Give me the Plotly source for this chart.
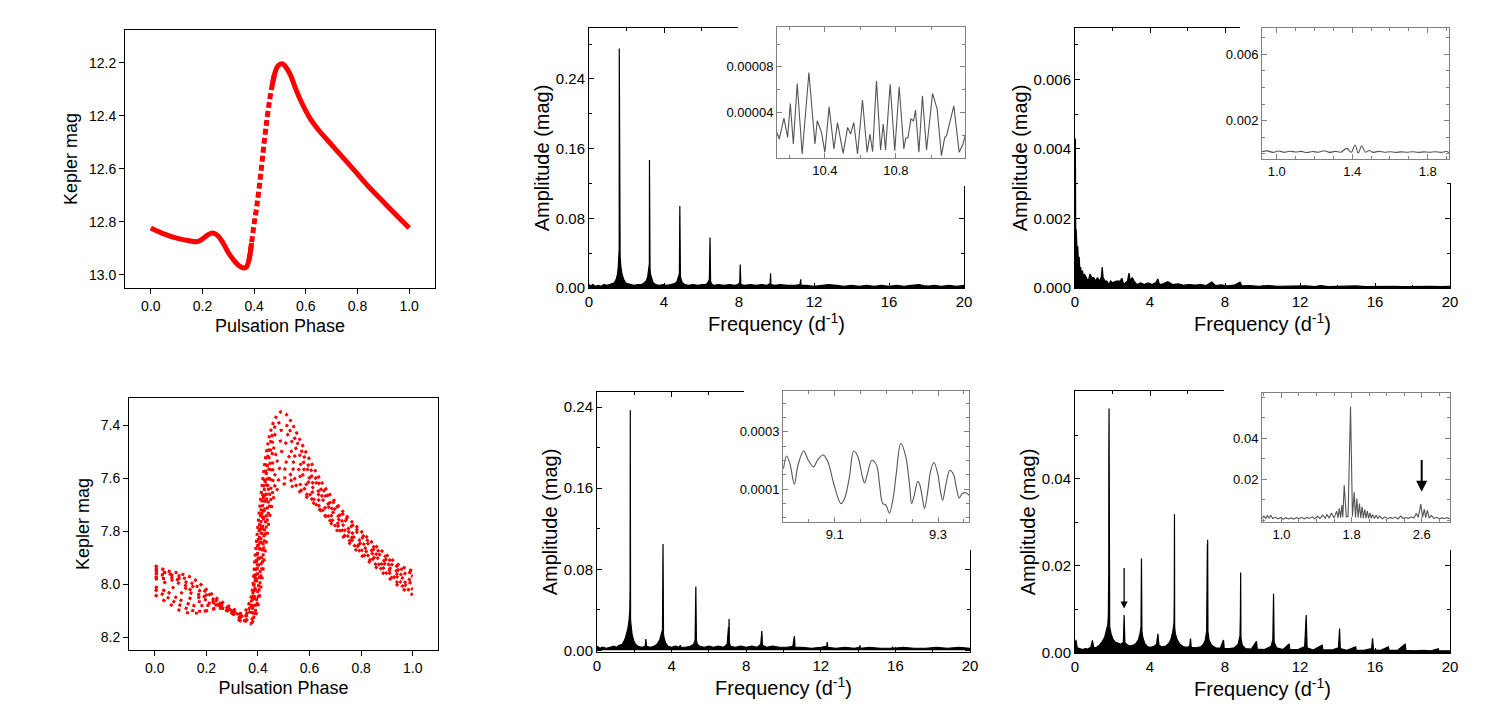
import plotly.graph_objects as go

W, H = 1500, 720
OFF = 8  # the page body adds an 8 px margin; domains are shifted to compensate
FONT = "Arial, 'Liberation Sans', sans-serif"
RED = "#ff0000"

# ---------------- light curves ----------------
phase_top = [0.00, 0.05, 0.10, 0.15, 0.18, 0.20, 0.22, 0.24, 0.26, 0.28, 0.30, 0.32, 0.34, 0.36,
             0.37, 0.38, 0.39, 0.40, 0.41, 0.42, 0.43, 0.44, 0.45, 0.46, 0.47, 0.48, 0.49, 0.50,
             0.51, 0.52, 0.54, 0.56, 0.58, 0.60, 0.62, 0.65, 0.70, 0.75, 0.80, 0.85, 0.90, 0.95, 1.00]
mag_top = [12.824, 12.846, 12.862, 12.872, 12.875, 12.865, 12.850, 12.843, 12.853, 12.881, 12.916,
           12.944, 12.965, 12.975, 12.971, 12.944, 12.880, 12.806, 12.743, 12.667, 12.580, 12.490,
           12.410, 12.340, 12.284, 12.240, 12.215, 12.206, 12.205, 12.213, 12.246, 12.297, 12.343,
           12.382, 12.416, 12.455, 12.510, 12.565, 12.620, 12.675, 12.725, 12.775, 12.824]

phase_bot = [0.00, 0.05, 0.10, 0.15, 0.20, 0.25, 0.30, 0.34, 0.37, 0.39, 0.41, 0.43, 0.45, 0.47,
             0.49, 0.51, 0.53, 0.56, 0.60, 0.65, 0.70, 0.75, 0.80, 0.85, 0.90, 0.95, 1.00]
mag_bot_cycles = [
    [7.93, 7.95, 7.96, 7.98, 8.02, 8.06, 8.09, 8.11, 8.06, 7.88, 7.68, 7.52, 7.42, 7.37,
     7.35, 7.36, 7.39, 7.45, 7.53, 7.62, 7.69, 7.75, 7.80, 7.85, 7.89, 7.93, 7.95],
    [7.94, 7.96, 7.97, 8.00, 8.03, 8.07, 8.10, 8.12, 8.09, 7.94, 7.74, 7.57, 7.46, 7.40,
     7.39, 7.40, 7.43, 7.48, 7.56, 7.64, 7.70, 7.76, 7.81, 7.86, 7.90, 7.94, 7.96],
    [7.95, 7.96, 7.98, 8.01, 8.04, 8.07, 8.10, 8.13, 8.08, 7.95, 7.78, 7.60, 7.49, 7.43,
     7.42, 7.43, 7.46, 7.51, 7.58, 7.65, 7.72, 7.77, 7.82, 7.87, 7.91, 7.95, 7.97],
    [7.96, 7.97, 7.99, 8.03, 8.05, 8.08, 8.11, 8.14, 8.10, 7.98, 7.82, 7.64, 7.53, 7.47,
     7.46, 7.47, 7.50, 7.54, 7.60, 7.67, 7.73, 7.79, 7.84, 7.88, 7.92, 7.96, 7.99],
    [7.98, 7.98, 8.00, 8.04, 8.06, 8.08, 8.11, 8.14, 8.12, 8.02, 7.86, 7.68, 7.57, 7.51,
     7.50, 7.51, 7.53, 7.57, 7.62, 7.68, 7.74, 7.80, 7.85, 7.89, 7.93, 7.97, 8.00],
    [7.97, 8.00, 8.03, 8.06, 8.07, 8.08, 8.10, 8.12, 8.11, 8.00, 7.84, 7.70, 7.60, 7.54,
     7.53, 7.54, 7.56, 7.59, 7.64, 7.70, 7.76, 7.81, 7.86, 7.90, 7.94, 7.98, 8.01],
    [8.01, 8.03, 8.06, 8.08, 8.08, 8.08, 8.10, 8.13, 8.14, 8.08, 7.94, 7.76, 7.64, 7.58,
     7.56, 7.57, 7.59, 7.62, 7.66, 7.72, 7.77, 7.82, 7.87, 7.91, 7.95, 7.99, 8.02],
    [8.02, 8.05, 8.08, 8.10, 8.10, 8.09, 8.11, 8.13, 8.15, 8.10, 7.98, 7.80, 7.68, 7.62,
     7.60, 7.60, 7.61, 7.64, 7.67, 7.73, 7.78, 7.83, 7.88, 7.92, 7.96, 8.00, 8.03],
    [8.04, 8.07, 8.10, 8.11, 8.10, 8.09, 8.10, 8.12, 8.15, 8.12, 8.02, 7.86, 7.72, 7.65,
     7.63, 7.62, 7.63, 7.65, 7.68, 7.73, 7.79, 7.84, 7.89, 7.93, 7.97, 8.01, 8.04],
]
# irregular dot spacing so the cycles read as a scatter of points
dot_patterns = ["3px,4px", "3px,6px,3px,3px", "3px,5px", "3px,3px,3px,7px", "3px,4px,3px,6px",
                "3px,7px", "3px,5px,3px,3px", "3px,4px", "3px,6px"]

# ---------------- amplitude spectra (freq d-1, amp mag) ----------------
spec_top_mid = [
    (0.00, 0.004), (0.10, 0.002), (0.20, 0.004), (0.35, 0.002), (0.50, 0.003), (0.65, 0.002),
    (0.80, 0.004), (0.95, 0.003), (1.10, 0.004), (1.25, 0.005), (1.35, 0.006), (1.45, 0.010),
    (1.52, 0.016), (1.56, 0.024), (1.59, 0.038), (1.61, 0.045), (1.615, 0.275), (1.625, 0.040),
    (1.635, 0.265), (1.645, 0.040), (1.66, 0.036), (1.70, 0.024), (1.76, 0.016), (1.85, 0.010),
    (1.95, 0.006), (2.05, 0.005), (2.20, 0.004), (2.40, 0.003), (2.60, 0.004), (2.80, 0.004),
    (2.95, 0.006), (3.05, 0.008), (3.13, 0.013), (3.19, 0.020), (3.22, 0.028), (3.225, 0.147),
    (3.235, 0.025), (3.245, 0.139), (3.255, 0.022), (3.28, 0.016), (3.34, 0.010), (3.42, 0.006),
    (3.55, 0.004), (3.75, 0.003), (3.95, 0.004), (4.15, 0.003), (4.35, 0.004), (4.55, 0.005),
    (4.68, 0.007), (4.76, 0.011), (4.82, 0.016), (4.845, 0.094), (4.855, 0.016), (4.865, 0.084),
    (4.875, 0.014), (4.91, 0.010), (4.98, 0.006), (5.10, 0.004), (5.30, 0.003), (5.55, 0.004),
    (5.80, 0.003), (6.05, 0.004), (6.25, 0.004), (6.36, 0.007), (6.42, 0.010), (6.455, 0.058),
    (6.465, 0.010), (6.475, 0.051), (6.485, 0.008), (6.53, 0.005), (6.65, 0.003), (6.90, 0.004),
    (7.20, 0.003), (7.50, 0.004), (7.75, 0.003), (7.95, 0.004), (8.04, 0.006), (8.065, 0.027),
    (8.075, 0.005), (8.085, 0.020), (8.10, 0.004), (8.30, 0.003), (8.60, 0.004), (8.90, 0.003),
    (9.20, 0.004), (9.50, 0.003), (9.66, 0.005), (9.685, 0.017), (9.70, 0.004), (9.90, 0.003),
    (10.20, 0.004), (10.60, 0.003), (11.00, 0.003), (11.25, 0.004), (11.295, 0.010), (11.31, 0.003),
    (11.60, 0.003), (12.00, 0.002), (12.40, 0.003), (12.80, 0.004), (13.20, 0.003), (13.60, 0.002),
    (14.00, 0.003), (14.40, 0.002), (14.80, 0.003), (15.20, 0.002), (15.60, 0.003), (16.00, 0.002),
    (16.40, 0.003), (16.80, 0.002), (17.20, 0.003), (17.60, 0.004), (18.00, 0.002), (18.40, 0.003),
    (18.80, 0.002), (19.20, 0.003), (19.60, 0.002), (20.00, 0.003),
]

spec_top_right = [
    (0.00, 0.0008), (0.02, 0.0043), (0.04, 0.0012), (0.06, 0.0017), (0.08, 0.0014), (0.10, 0.0017),
    (0.12, 0.0010), (0.15, 0.0012), (0.18, 0.0007), (0.22, 0.0009), (0.26, 0.0005), (0.30, 0.0006),
    (0.35, 0.0004), (0.40, 0.0005), (0.45, 0.0003), (0.50, 0.0004), (0.60, 0.0003), (0.70, 0.0002),
    (0.80, 0.0004), (0.90, 0.0003), (1.00, 0.0003), (1.10, 0.0002), (1.20, 0.0003), (1.30, 0.0002),
    (1.40, 0.0003), (1.45, 0.0006), (1.50, 0.0003), (1.60, 0.0002), (1.70, 0.0002), (1.80, 0.0001),
    (1.90, 0.0002), (2.00, 0.00015), (2.20, 0.0002), (2.40, 0.0002), (2.50, 0.00028), (2.60, 0.0001),
    (2.80, 0.0002), (2.88, 0.00043), (2.95, 0.0002), (3.05, 0.0003), (3.15, 0.0002), (3.30, 0.0001),
    (3.50, 0.00015), (3.70, 0.0001), (3.90, 0.00015), (4.10, 0.0001), (4.30, 0.00015), (4.42, 0.00026),
    (4.50, 0.0001), (4.70, 0.00012), (4.95, 0.00018), (5.20, 0.0001), (5.50, 0.00012), (5.80, 0.00008),
    (6.10, 0.0001), (6.40, 0.00008), (6.70, 0.0001), (7.00, 0.00007), (7.30, 0.00017), (7.50, 0.00007),
    (7.80, 0.00009), (8.10, 0.00006), (8.50, 0.00008), (8.80, 0.00017), (8.90, 0.00006), (9.30, 0.00007),
    (9.80, 0.00005), (10.30, 0.00007), (10.80, 0.00005), (11.30, 0.00006), (11.80, 0.00005),
    (12.30, 0.00006), (12.80, 0.00004), (13.10, 0.00007), (13.50, 0.00004), (14.00, 0.00005),
    (14.50, 0.00004), (15.00, 0.00006), (15.50, 0.00004), (16.00, 0.00005), (16.50, 0.00004),
    (17.00, 0.00005), (17.50, 0.00004), (18.00, 0.00005), (18.50, 0.00004), (19.00, 0.00005),
    (19.50, 0.00004), (20.00, 0.00005),
]

spec_bot_mid = [
    (0.00, 0.004), (0.15, 0.002), (0.30, 0.003), (0.50, 0.002), (0.70, 0.003), (0.90, 0.004),
    (1.05, 0.003), (1.20, 0.005), (1.35, 0.006), (1.48, 0.010), (1.58, 0.016), (1.66, 0.022),
    (1.72, 0.030), (1.76, 0.040), (1.775, 0.063), (1.78, 0.030), (1.785, 0.237), (1.79, 0.040),
    (1.795, 0.097), (1.80, 0.030), (1.83, 0.024), (1.88, 0.016), (1.96, 0.010), (2.06, 0.006),
    (2.20, 0.004), (2.40, 0.003), (2.58, 0.004), (2.62, 0.011), (2.66, 0.004), (2.85, 0.003),
    (3.05, 0.004), (3.22, 0.006), (3.36, 0.010), (3.45, 0.015), (3.51, 0.020), (3.54, 0.105),
    (3.55, 0.020), (3.555, 0.102), (3.565, 0.016), (3.60, 0.012), (3.68, 0.007), (3.80, 0.004),
    (4.00, 0.003), (4.20, 0.004), (4.42, 0.003), (4.46, 0.005), (4.50, 0.003), (4.75, 0.003),
    (5.00, 0.004), (5.18, 0.006), (5.26, 0.010), (5.30, 0.063), (5.31, 0.012), (5.32, 0.033),
    (5.33, 0.010), (5.38, 0.006), (5.50, 0.004), (5.75, 0.003), (6.00, 0.004), (6.25, 0.003),
    (6.50, 0.004), (6.80, 0.003), (6.98, 0.006), (7.05, 0.023), (7.07, 0.008), (7.08, 0.031),
    (7.10, 0.007), (7.16, 0.004), (7.40, 0.003), (7.70, 0.004), (8.00, 0.003), (8.30, 0.004),
    (8.60, 0.003), (8.78, 0.006), (8.84, 0.019), (8.87, 0.005), (9.10, 0.003), (9.40, 0.004),
    (9.80, 0.003), (10.20, 0.003), (10.50, 0.004), (10.585, 0.014), (10.62, 0.003), (11.00, 0.003),
    (11.50, 0.002), (12.00, 0.003), (12.32, 0.004), (12.345, 0.008), (12.37, 0.003), (12.80, 0.002),
    (13.30, 0.003), (13.80, 0.002), (14.08, 0.003), (14.10, 0.0048), (14.13, 0.002), (14.60, 0.003),
    (15.20, 0.002), (15.82, 0.002), (15.85, 0.0034), (15.88, 0.002), (16.40, 0.003), (17.00, 0.002),
    (17.58, 0.002), (17.60, 0.0025), (17.63, 0.002), (18.20, 0.003), (18.80, 0.002), (19.40, 0.003),
    (20.00, 0.002),
]

spec_bot_right = [
    (0.00, 0.0015), (0.05, 0.0030), (0.12, 0.0012), (0.25, 0.0010), (0.40, 0.0008), (0.55, 0.0010),
    (0.70, 0.0009), (0.85, 0.0014), (0.93, 0.0029), (1.00, 0.0012), (1.15, 0.0013), (1.30, 0.0018),
    (1.45, 0.0026), (1.58, 0.0036), (1.68, 0.0050), (1.75, 0.0065), (1.78, 0.0090), (1.795, 0.0175),
    (1.80, 0.0080), (1.805, 0.0441), (1.81, 0.0080), (1.815, 0.0562), (1.82, 0.0070), (1.85, 0.0060),
    (1.92, 0.0045), (2.02, 0.0032), (2.15, 0.0025), (2.30, 0.0022), (2.45, 0.0020), (2.58, 0.0025),
    (2.62, 0.0087), (2.66, 0.0024), (2.80, 0.0018), (2.95, 0.0016), (3.10, 0.0018), (3.25, 0.0022),
    (3.38, 0.0030), (3.47, 0.0045), (3.52, 0.0060), (3.545, 0.0217), (3.55, 0.0060), (3.555, 0.0176),
    (3.57, 0.0050), (3.62, 0.0035), (3.72, 0.0022), (3.85, 0.0015), (4.00, 0.0013), (4.20, 0.0015),
    (4.35, 0.0020), (4.42, 0.0044), (4.48, 0.0018), (4.65, 0.0014), (4.85, 0.0016), (5.00, 0.0022),
    (5.12, 0.0032), (5.22, 0.0050), (5.28, 0.0070), (5.295, 0.0121), (5.30, 0.0060), (5.305, 0.0319),
    (5.315, 0.0060), (5.35, 0.0045), (5.45, 0.0030), (5.60, 0.0020), (5.80, 0.0014), (6.00, 0.0013),
    (6.12, 0.0016), (6.16, 0.0033), (6.20, 0.0013), (6.45, 0.0012), (6.70, 0.0014), (6.85, 0.0020),
    (6.95, 0.0030), (7.02, 0.0050), (7.06, 0.0250), (7.07, 0.0060), (7.075, 0.0260), (7.09, 0.0050),
    (7.15, 0.0030), (7.28, 0.0018), (7.50, 0.0012), (7.75, 0.0011), (7.92, 0.0030), (7.96, 0.0010),
    (8.25, 0.0010), (8.50, 0.0012), (8.70, 0.0020), (8.80, 0.0040), (8.82, 0.0087), (8.825, 0.0040),
    (8.835, 0.0185), (8.85, 0.0035), (8.92, 0.0018), (9.10, 0.0010), (9.40, 0.0009), (9.68, 0.0027),
    (9.72, 0.0009), (10.10, 0.0008), (10.45, 0.0015), (10.55, 0.0030), (10.59, 0.0136), (10.62, 0.0025),
    (10.75, 0.0012), (11.10, 0.0008), (11.42, 0.0021), (11.46, 0.0008), (11.90, 0.0008), (12.25, 0.0015),
    (12.33, 0.0087), (12.38, 0.0012), (12.70, 0.0007), (13.18, 0.0018), (13.22, 0.0007), (13.70, 0.0007),
    (14.05, 0.0012), (14.11, 0.0056), (14.15, 0.0010), (14.50, 0.0006), (14.97, 0.0014), (15.00, 0.0006),
    (15.40, 0.0006), (15.82, 0.0010), (15.87, 0.0034), (15.92, 0.0007), (16.30, 0.0006), (16.71, 0.0014),
    (16.75, 0.0006), (17.20, 0.0006), (17.61, 0.0021), (17.65, 0.0006), (18.10, 0.0005), (18.60, 0.0006),
    (19.00, 0.0005), (19.37, 0.0010), (19.41, 0.0005), (19.70, 0.0005), (20.00, 0.0005),
]

# ---------------- insets ----------------
inset_top_mid = [
    (10.124, 2.45e-5), (10.143, 1.66e-5), (10.169, 3.50e-5), (10.190, 1.81e-5), (10.205, 4.79e-5),
    (10.222, 1.23e-5), (10.244, 6.54e-5), (10.272, 0.35e-5), (10.310, 7.50e-5), (10.344, 1.23e-5),
    (10.357, 3.27e-5), (10.381, 2.25e-5), (10.400, 0.50e-5), (10.424, 4.50e-5), (10.451, 0.79e-5),
    (10.471, 3.10e-5), (10.503, 0.41e-5), (10.528, 2.69e-5), (10.545, 2.10e-5), (10.563, 3.12e-5),
    (10.584, 0.35e-5), (10.612, 5.08e-5), (10.638, 0.50e-5), (10.654, 2.10e-5), (10.669, 0.55e-5),
    (10.691, 6.77e-5), (10.714, 0.70e-5), (10.729, 2.98e-5), (10.742, 0.70e-5), (10.768, 6.48e-5),
    (10.794, 0.64e-5), (10.819, 6.25e-5), (10.845, 0.79e-5), (10.856, 1.75e-5), (10.868, 1.75e-5),
    (10.885, 3.42e-5), (10.900, 3.27e-5), (10.911, 4.20e-5), (10.930, 0.50e-5), (10.950, 5.46e-5),
    (10.973, 0.70e-5), (11.007, 5.66e-5), (11.033, 4.29e-5), (11.057, 0.20e-5), (11.076, 1.81e-5),
    (11.086, 1.96e-5), (11.127, 4.58e-5), (11.157, 0.50e-5), (11.179, 1.23e-5), (11.195, 2.25e-5),
]

inset_top_right = [
    (0.92, 1.2e-4), (0.95, 1.8e-4), (0.98, 0.9e-4), (1.01, 1.7e-4), (1.04, 1.0e-4), (1.07, 1.6e-4),
    (1.10, 1.1e-4), (1.13, 1.5e-4), (1.16, 0.8e-4), (1.19, 1.4e-4), (1.22, 1.0e-4), (1.25, 1.9e-4),
    (1.28, 0.9e-4), (1.31, 1.5e-4), (1.34, 1.0e-4), (1.37, 3.3e-4), (1.395, 1.0e-4), (1.415, 5.3e-4),
    (1.432, 0.5e-4), (1.45, 4.9e-4), (1.47, 1.0e-4), (1.49, 2.0e-4), (1.51, 0.9e-4), (1.54, 1.5e-4),
    (1.57, 1.0e-4), (1.60, 1.3e-4), (1.63, 0.9e-4), (1.66, 1.2e-4), (1.69, 1.0e-4), (1.72, 1.3e-4),
    (1.75, 0.9e-4), (1.78, 1.2e-4), (1.81, 1.0e-4), (1.84, 1.3e-4), (1.87, 0.9e-4), (1.90, 1.4e-4),
    (1.913, 0.8e-4),
]

inset_bot_mid = [
    (9.001, 1.72e-4), (9.007, 2.16e-4), (9.014, 1.84e-4), (9.022, 1.17e-4), (9.029, 1.84e-4),
    (9.040, 2.33e-4), (9.049, 2.01e-4), (9.059, 1.78e-4), (9.068, 2.05e-4), (9.078, 2.19e-4),
    (9.087, 1.95e-4), (9.099, 1.14e-4), (9.112, 0.50e-4), (9.119, 0.67e-4), (9.128, 1.37e-4),
    (9.137, 2.33e-4), (9.145, 2.13e-4), (9.153, 1.49e-4), (9.158, 1.22e-4), (9.163, 1.51e-4),
    (9.172, 2.01e-4), (9.181, 1.84e-4), (9.187, 1.14e-4), (9.193, 0.50e-4), (9.198, 0.47e-4),
    (9.201, 0.38e-4), (9.206, 0.17e-4), (9.213, 0.67e-4), (9.219, 1.51e-4), (9.228, 2.59e-4),
    (9.237, 2.19e-4), (9.245, 1.14e-4), (9.249, 0.50e-4), (9.254, 0.79e-4), (9.261, 1.28e-4),
    (9.265, 1.14e-4), (9.270, 0.67e-4), (9.274, 0.33e-4), (9.280, 0.91e-4), (9.286, 1.66e-4),
    (9.292, 1.93e-4), (9.299, 1.58e-4), (9.305, 0.91e-4), (9.309, 0.62e-4), (9.315, 1.14e-4),
    (9.323, 1.66e-4), (9.330, 1.51e-4), (9.336, 1.02e-4), (9.341, 0.70e-4), (9.347, 0.85e-4),
    (9.354, 0.88e-4), (9.360, 0.79e-4),
]

inset_bot_right = [
    (0.78, 0.0012), (0.80, 0.0022), (0.82, 0.0010), (0.84, 0.0024), (0.86, 0.0012), (0.88, 0.0026),
    (0.90, 0.0010), (0.93, 0.0016), (0.96, 0.0008), (0.99, 0.0015), (1.02, 0.0007), (1.05, 0.0014),
    (1.08, 0.0008), (1.11, 0.0013), (1.14, 0.0007), (1.17, 0.0014), (1.20, 0.0009), (1.23, 0.0016),
    (1.26, 0.0008), (1.29, 0.0015), (1.32, 0.0010), (1.35, 0.0018), (1.38, 0.0009), (1.41, 0.0021),
    (1.44, 0.0010), (1.47, 0.0026), (1.50, 0.0011), (1.52, 0.0030), (1.545, 0.0011), (1.57, 0.0037),
    (1.60, 0.0012), (1.63, 0.0046), (1.645, 0.0013), (1.66, 0.0059), (1.675, 0.0014), (1.69, 0.0075),
    (1.70, 0.0016), (1.716, 0.0172), (1.74, 0.0018), (1.76, 0.0020), (1.788, 0.0554), (1.81, 0.0020),
    (1.83, 0.0137), (1.845, 0.0015), (1.86, 0.0107), (1.875, 0.0014), (1.89, 0.0083), (1.905, 0.0013),
    (1.92, 0.0067), (1.935, 0.0012), (1.95, 0.0055), (1.965, 0.0012), (1.98, 0.0046), (1.995, 0.0011),
    (2.01, 0.0037), (2.025, 0.0011), (2.04, 0.0030), (2.06, 0.0010), (2.08, 0.0026), (2.10, 0.0010),
    (2.12, 0.0022), (2.15, 0.0009), (2.18, 0.0018), (2.21, 0.0009), (2.24, 0.0015), (2.27, 0.0010),
    (2.30, 0.0017), (2.33, 0.0008), (2.36, 0.0022), (2.39, 0.0010), (2.42, 0.0015), (2.45, 0.0011),
    (2.48, 0.0018), (2.51, 0.0012), (2.54, 0.0035), (2.56, 0.0015), (2.59, 0.0080), (2.61, 0.0016),
    (2.63, 0.0055), (2.645, 0.0014), (2.665, 0.0050), (2.685, 0.0012), (2.71, 0.0025), (2.74, 0.0010),
    (2.77, 0.0016), (2.80, 0.0009), (2.83, 0.0013), (2.86, 0.0010), (2.89, 0.0014), (2.92, 0.0008),
]

# arrows: (freq, tail amp, head amp)
arrow_main = (2.62, 0.0199, 0.0102)
arrow_inset = (2.60, 0.0302, 0.0140)


def clamp(v):
    return min(1.0, max(0.0, v))


def xdom(x0, x1):
    return [clamp((x0 - OFF) / W), clamp((x1 - OFF) / W)]


def ydom(top, bottom):
    return [clamp(1 - (bottom - OFF) / H), clamp(1 - (top - OFF) / H)]


def axis(dom, rng, vals, fmt, minor, anchor, title=None, tsize=19, fsize=15,
         standoff=4, color="black"):
    d = dict(domain=dom, range=rng, anchor=anchor, tickmode="array", tickvals=vals,
             tickformat=fmt, ticks="inside", ticklen=5, tickwidth=1, tickcolor=color,
             minor=dict(tickmode="linear", tick0=0, dtick=minor, ticks="inside",
                        ticklen=3, tickwidth=1, tickcolor=color),
             showline=True, linecolor=color, linewidth=1, mirror="ticks",
             showgrid=False, zeroline=False, automargin=False, fixedrange=True,
             tickfont=dict(size=fsize, color="black", family=FONT))
    if title:
        d["title"] = dict(text=title, standoff=standoff,
                          font=dict(size=tsize, color="black", family=FONT))
    return d


def phase_axis(dom, rng, vals, anchor, title):
    # light-curve panels: outside major ticks, plain box
    return dict(domain=dom, range=rng, anchor=anchor, tickmode="array", tickvals=vals,
                tickformat=".1f", ticks="outside", ticklen=5, tickwidth=1, tickcolor="black",
                showline=True, linecolor="black", linewidth=1, mirror=True,
                showgrid=False, zeroline=False, automargin=False, fixedrange=True,
                tickfont=dict(size=14, color="black", family=FONT),
                title=dict(text=title, standoff=6, font=dict(size=18, color="black", family=FONT)))


def blank(dom, anchor):
    return dict(domain=dom, anchor=anchor, visible=False, fixedrange=True)


fig = go.Figure()


def add(tr, n):
    s = "" if n == 1 else str(n)
    tr.update(xaxis="x" + s, yaxis="y" + s, showlegend=False, hoverinfo="skip")
    fig.add_trace(tr)


# panel 1: smooth light curve (dashed on the fast rise)
idx_a = [i for i, p in enumerate(phase_top) if p <= 0.39]
idx_b = [i for i, p in enumerate(phase_top) if 0.38 <= p <= 0.48]
idx_c = [i for i, p in enumerate(phase_top) if p >= 0.47]
for idx, dash in ((idx_a, "solid"), (idx_b, "6px,3px"), (idx_c, "solid")):
    add(go.Scatter(x=[phase_top[i] for i in idx], y=[mag_top[i] for i in idx], mode="lines",
                   line=dict(color=RED, width=5, shape="spline", dash=dash)), 1)

# panel 4: scattered light curve, one dotted curve per cycle
for mags, dash in zip(mag_bot_cycles, dot_patterns):
    add(go.Scatter(x=phase_bot, y=mags, mode="lines",
                   line=dict(color=RED, width=3, shape="spline", dash=dash)), 4)

# spectra
for spec, n in ((spec_top_mid, 2), (spec_top_right, 3), (spec_bot_mid, 5), (spec_bot_right, 6)):
    f, a = zip(*spec)
    add(go.Scatter(x=f, y=a, mode="lines", line=dict(color="black", width=1.2),
                   fill="tozeroy", fillcolor="black"), n)

# empty cover subplots (white background hiding the frame behind each inset)
for n in (7, 8, 9, 10):
    add(go.Scatter(x=[], y=[], mode="lines"), n)

# insets
for spec, n, shape in ((inset_top_mid, 11, "linear"), (inset_top_right, 12, "spline"),
                       (inset_bot_mid, 13, "spline"), (inset_bot_right, 14, "linear")):
    f, a = zip(*spec)
    add(go.Scatter(x=f, y=a, mode="lines",
                   line=dict(color="#555555", width=1.1, shape=shape)), n)

freq_title = "Frequency (d<sup>-1</sup>)"
amp_title = "Amplitude (mag)"
pticks = [0, 0.2, 0.4, 0.6, 0.8, 1.0]
lay = {}
# light curves
lay["xaxis"] = phase_axis(xdom(125, 435), [-0.1, 1.1], pticks, "y", "Pulsation Phase")
lay["yaxis"] = phase_axis(ydom(30, 288), [13.05, 12.077], [12.2, 12.4, 12.6, 12.8, 13.0], "x",
                          "Kepler mag")
lay["xaxis4"] = phase_axis(xdom(129, 438), [-0.1, 1.098], pticks, "y4", "Pulsation Phase")
lay["yaxis4"] = phase_axis(ydom(398, 650), [8.248, 7.298], [7.4, 7.6, 7.8, 8.0, 8.2], "x4",
                           "Kepler mag")
# spectra
fticks = [0, 4, 8, 12, 16, 20]
lay["xaxis2"] = axis(xdom(589, 964), [0, 20], fticks, "d", 2, "y2", freq_title, 20, 15, 4)
lay["yaxis2"] = axis(ydom(28, 288), [0, 0.2985], [0, 0.08, 0.16, 0.24], ".2f", 0.04, "x2",
                     amp_title, 20, 15, 0)
lay["xaxis3"] = axis(xdom(1075, 1450), [0, 20], fticks, "d", 2, "y3", freq_title, 20, 15, 4)
lay["yaxis3"] = axis(ydom(28, 288), [0, 0.00748], [0, 0.002, 0.004, 0.006], ".3f", 0.001, "x3",
                     amp_title, 20, 15, 0)
lay["xaxis5"] = axis(xdom(597, 970), [0, 20], fticks, "d", 2, "y5", freq_title, 20, 15, 4)
lay["yaxis5"] = axis(ydom(392, 652), [-0.0017, 0.255], [0, 0.08, 0.16, 0.24], ".2f", 0.04, "x5",
                     amp_title, 20, 15, 0)
lay["xaxis6"] = axis(xdom(1075, 1450), [0, 20], fticks, "d", 2, "y6", freq_title, 20, 15, 4)
lay["yaxis6"] = axis(ydom(391, 653), [0, 0.0602], [0, 0.02, 0.04], ".2f", 0.01, "x6",
                     amp_title, 20, 15, 0)
# covers
covers = {7: ((738, 975), (8, 186)), 8: ((1240, 1470), (8, 183)),
          9: ((744, 980), (378, 550)), 10: ((1224, 1470), (378, 550))}
for n, (xs, ys) in covers.items():
    lay["xaxis%d" % n] = blank(xdom(*xs), "y%d" % n)
    lay["yaxis%d" % n] = blank(ydom(*ys), "x%d" % n)
# insets
g = "#808080"
lay["xaxis11"] = axis(xdom(777, 965), [10.13, 11.19], [10.4, 10.8], ".1f", 0.2, "y11", fsize=13, color=g)
lay["yaxis11"] = axis(ydom(27, 158), [0, 0.000115], [0.00004, 0.00008], ".5f", 0.00002, "x11",
                      fsize=13, color=g)
lay["xaxis12"] = axis(xdom(1262, 1449), [0.922, 1.913], [1.0, 1.4, 1.8], ".1f", 0.1, "y12", fsize=13, color=g)
lay["yaxis12"] = axis(ydom(28, 159), [-0.00031, 0.00759], [0.002, 0.006], ".3f", 0.001, "x12",
                      fsize=13, color=g)
lay["xaxis13"] = axis(xdom(783, 969), [9.0, 9.36], [9.1, 9.3], ".1f", 0.05, "y13", fsize=13, color=g)
lay["yaxis13"] = axis(ydom(391, 522), [-0.000014, 0.000442], [0.0001, 0.0003], ".4f", 0.00005, "x13",
                      fsize=13, color=g)
lay["xaxis14"] = axis(xdom(1262, 1450), [0.778, 2.923], [1.0, 1.8, 2.6], ".1f", 0.2, "y14", fsize=13, color=g)
lay["yaxis14"] = axis(ydom(393, 522), [-0.0007, 0.062], [0.02, 0.04], ".2f", 0.01, "x14",
                      fsize=13, color=g)

annotations = []
for (fx, tail, head), n, w in ((arrow_main, 6, 1.3), (arrow_inset, 14, 2.0)):
    annotations.append(dict(x=fx, y=head, ax=fx, ay=tail, xref="x%d" % n, yref="y%d" % n,
                            axref="x%d" % n, ayref="y%d" % n, text="", showarrow=True,
                            arrowhead=2, arrowsize=1.1, arrowwidth=w, arrowcolor="black"))

fig.update_layout(template="none", width=W, height=H, margin=dict(l=0, r=0, t=0, b=0),
                  paper_bgcolor="white", plot_bgcolor="white", showlegend=False,
                  font=dict(family=FONT, color="black"), annotations=annotations, **lay)

fig.write_html("out.html")
